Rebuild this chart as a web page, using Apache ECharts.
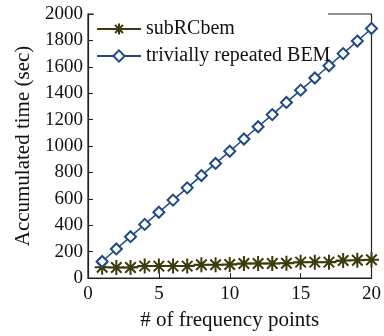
<!DOCTYPE html>
<html><head><meta charset="utf-8">
<script src="https://cdn.jsdelivr.net/npm/echarts@6/dist/echarts.min.js"></script>
<style>html,body{margin:0;padding:0;background:#fff}#c{width:384px;height:336px}</style>
</head><body><div id="c"></div>
<script>
const freqPoints = [1,2,3,4,5,6,7,8,9,10,11,12,13,14,15,16,17,18,19,20];
const subRCbem = [82,80,80,90,90,90,90,100,100,102,110,110,110,112,120,120,120,132,134,138];
const trivialBEM = [125,220,313,406,498,590,683,776,868,960,1053,1146,1238,1330,1423,1515,1608,1700,1795,1890];
const xTicks = [0,5,10,15,20];
const yTicks = [0,200,400,600,800,1000,1200,1400,1600,1800,2000];
const font = 'Liberation Serif';
const star = 'path://M0,5 L10,5 M5,0 L5,10 M1.5,1.5 L8.5,8.5 M8.5,1.5 L1.5,8.5';
const chart = echarts.init(document.getElementById('c'));
chart.setOption({
  animation:false,
  grid:{left:88,right:11,top:14,bottom:51,show:true,borderColor:'#222',borderWidth:1.2,backgroundColor:'transparent'},
  graphic:[{type:'rect',left:94,top:12,shape:{width:234,height:4},style:{fill:'#fff'},z:100}],
  legend:{left:92,top:17,orient:'vertical',itemGap:7,itemWidth:44,itemHeight:14,padding:[2,2,0,4],
    textStyle:{fontFamily:font,fontSize:20,color:'#111'},
    data:['subRCbem','trivially repeated BEM']},
  xAxis:{type:'value',min:xTicks[0],max:xTicks[xTicks.length-1],interval:5,
    name:'# of frequency points',nameLocation:'middle',nameGap:32,
    nameTextStyle:{fontFamily:font,fontSize:21,color:'#111'},
    axisLine:{lineStyle:{color:'#222',width:1.2}},
    axisTick:{inside:true,length:5,lineStyle:{color:'#222'}},
    axisLabel:{fontFamily:font,fontSize:19,color:'#111',margin:7,formatter:v=>String(v)},
    splitLine:{show:false}},
  yAxis:{type:'value',min:yTicks[0],max:yTicks[yTicks.length-1],interval:200,
    name:'Accumulated time (sec)',nameLocation:'middle',nameGap:51,
    nameTextStyle:{fontFamily:font,fontSize:21,color:'#111'},
    axisLine:{lineStyle:{color:'#222',width:1.2}},
    axisTick:{inside:true,length:5,lineStyle:{color:'#222'}},
    axisLabel:{fontFamily:font,fontSize:19,color:'#111',margin:5,formatter:v=>String(v)},
    splitLine:{show:false}},
  series:[
    {name:'subRCbem',type:'line',data:freqPoints.map((x,i)=>[x,subRCbem[i]]),
     symbol:star,symbolSize:15,
     lineStyle:{color:'#3b3b0c',width:1.5},
     itemStyle:{color:'transparent',borderColor:'#3b3b0c',borderWidth:2}},
    {name:'trivially repeated BEM',type:'line',data:freqPoints.map((x,i)=>[x,trivialBEM[i]]),
     symbol:'diamond',symbolSize:11,
     lineStyle:{color:'#1f4a85',width:1.5},
     itemStyle:{color:'#fff',borderColor:'#1f4a85',borderWidth:2}}
  ]
});
</script></body></html>
